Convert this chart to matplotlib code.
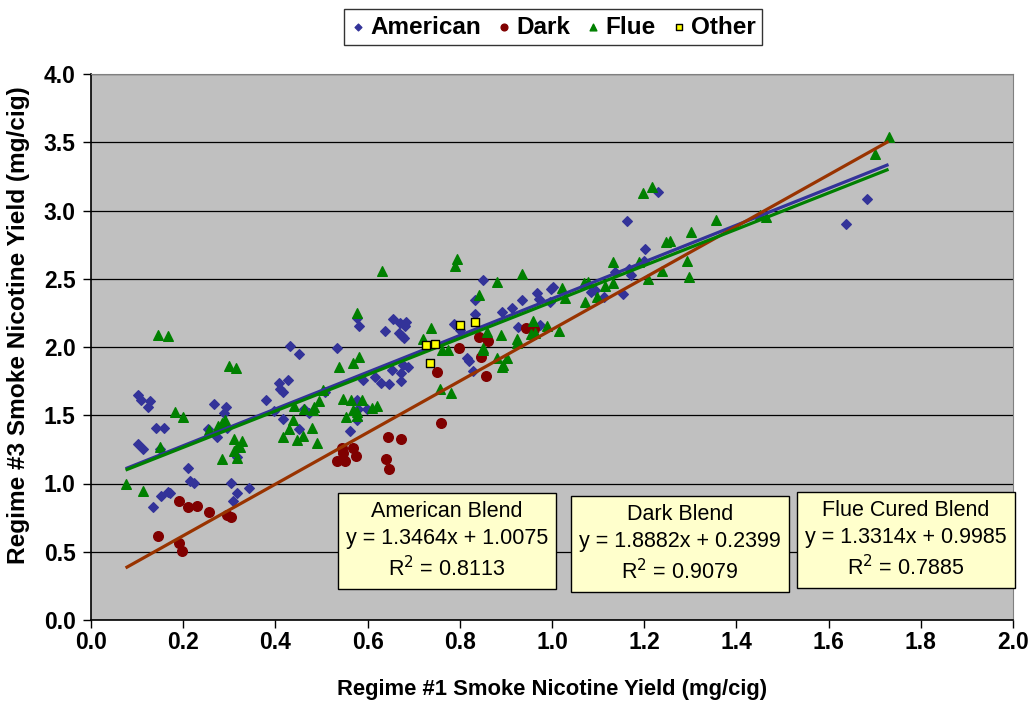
import numpy as np
import matplotlib
matplotlib.use("Agg")
import matplotlib.pyplot as plt
from matplotlib.ticker import FormatStrFormatter

plt.rcParams["font.family"] = ["Liberation Sans", "DejaVu Sans"]

# Regime #1 vs Regime #3 nicotine yields (mg/cig), by blend type
american_x = [0.101, 0.108, 0.128, 0.124, 0.142, 0.158, 0.103, 0.112, 0.150, 0.210,
              0.215, 0.223, 0.152, 0.168, 0.172, 0.134, 0.267, 0.293, 0.289, 0.253,
              0.273, 0.296, 0.303, 0.316, 0.309, 0.317, 0.343, 0.576, 0.582, 0.432,
              0.451, 0.534, 0.408, 0.428, 0.411, 0.416, 0.380, 0.398, 0.417, 0.452,
              0.462, 0.472, 0.507, 0.591, 0.616, 0.578, 0.579, 0.576, 0.562, 0.598,
              0.851, 0.834, 0.834, 0.891, 0.913, 0.927, 0.638, 0.656, 0.670, 0.683,
              0.681, 0.669, 0.674, 0.680, 0.788, 0.800, 0.815, 0.821, 0.828, 0.677,
              0.687, 0.654, 0.672, 0.629, 0.646, 0.672, 1.162, 1.202, 0.936, 0.968,
              0.972, 0.998, 1.003, 0.996, 0.975, 1.085, 1.093, 1.113, 1.137, 1.155,
              1.166, 1.171, 1.200, 1.231, 1.683, 1.638]
american_y = [1.648, 1.610, 1.607, 1.563, 1.404, 1.410, 1.290, 1.255, 1.250, 1.116,
              1.018, 1.006, 0.911, 0.940, 0.928, 0.826, 1.582, 1.558, 1.520, 1.400,
              1.338, 1.404, 1.001, 0.928, 0.872, 1.196, 0.965, 2.210, 2.154, 2.007,
              1.946, 1.990, 1.739, 1.758, 1.692, 1.673, 1.612, 1.531, 1.475, 1.397,
              1.544, 1.514, 1.672, 1.758, 1.783, 1.612, 1.544, 1.465, 1.385, 1.544,
              2.491, 2.344, 2.242, 2.254, 2.284, 2.149, 2.119, 2.205, 2.173, 2.185,
              2.154, 2.105, 2.081, 2.064, 2.168, 2.125, 1.917, 1.897, 1.826, 1.868,
              1.856, 1.832, 1.807, 1.739, 1.727, 1.751, 2.923, 2.716, 2.344, 2.398,
              2.350, 2.425, 2.437, 2.332, 2.161, 2.405, 2.418, 2.369, 2.547, 2.388,
              2.569, 2.527, 2.632, 3.133, 3.082, 2.899]

dark_x = [0.191, 0.211, 0.229, 0.255, 0.296, 0.303, 0.146, 0.191, 0.198, 0.544,
          0.569, 0.547, 0.575, 0.533, 0.550, 0.644, 0.672, 0.640, 0.647, 0.759,
          0.750, 0.798, 0.842, 0.862, 0.847, 0.856, 0.944, 0.961]
dark_y = [0.870, 0.830, 0.837, 0.789, 0.769, 0.752, 0.618, 0.562, 0.508, 1.262,
          1.262, 1.221, 1.201, 1.167, 1.165, 1.338, 1.326, 1.179, 1.108, 1.445,
          1.819, 1.995, 2.071, 2.046, 1.925, 1.787, 2.137, 2.132]

flue_x = [0.146, 0.166, 0.300, 0.315, 0.183, 0.199, 0.150, 0.075, 0.113, 0.275,
          0.285, 0.291, 0.256, 0.310, 0.310, 0.316, 0.285, 0.316, 0.327, 0.323,
          0.576, 0.539, 0.569, 0.582, 0.440, 0.495, 0.503, 0.481, 0.484, 0.462,
          0.439, 0.430, 0.417, 0.447, 0.459, 0.479, 0.490, 0.547, 0.564, 0.587,
          0.553, 0.568, 0.576, 0.577, 0.609, 0.620, 0.631, 0.795, 0.790, 0.880,
          0.842, 0.738, 0.721, 0.761, 0.775, 0.858, 0.850, 0.851, 0.889, 0.923,
          0.880, 0.894, 0.891, 0.903, 0.757, 0.781, 0.936, 1.132, 1.189, 1.021,
          1.028, 1.069, 1.079, 1.072, 1.097, 1.115, 1.132, 1.209, 0.959, 0.990,
          1.015, 0.954, 0.963, 0.925, 1.216, 1.197, 1.355, 1.451, 1.464, 1.302,
          1.247, 1.257, 1.292, 1.238, 1.298, 1.730, 1.701]
flue_y = [2.088, 2.080, 1.861, 1.844, 1.526, 1.490, 1.270, 1.000, 0.947, 1.421,
          1.441, 1.465, 1.390, 1.326, 1.240, 1.270, 1.177, 1.185, 1.313, 1.270,
          2.247, 1.856, 1.885, 1.925, 1.568, 1.604, 1.685, 1.538, 1.558, 1.544,
          1.465, 1.400, 1.338, 1.319, 1.350, 1.404, 1.294, 1.619, 1.612, 1.612,
          1.485, 1.538, 1.526, 1.494, 1.555, 1.568, 2.559, 2.645, 2.596, 2.479,
          2.381, 2.142, 2.056, 1.978, 1.978, 2.112, 1.990, 1.978, 2.088, 2.056,
          1.917, 1.868, 1.851, 1.917, 1.690, 1.665, 2.533, 2.625, 2.625, 2.435,
          2.357, 2.467, 2.479, 2.332, 2.364, 2.447, 2.471, 2.496, 2.193, 2.154,
          2.117, 2.095, 2.100, 2.032, 3.170, 3.126, 2.930, 2.967, 2.950, 2.845,
          2.772, 2.779, 2.632, 2.559, 2.515, 3.541, 3.414]

other_x = [0.800, 0.834, 0.727, 0.746, 0.735]
other_y = [2.163, 2.181, 2.017, 2.024, 1.885]

# linear fits (slope, intercept, R^2) per blend
fit_names = ["American Blend", "Dark Blend", "Flue Cured Blend"]
fit_slope = [1.3464, 1.8882, 1.3314]
fit_icept = [1.0075, 0.2399, 0.9985]
fit_r2 = ["0.8113", "0.9079", "0.7885"]

blue = "#333399"
dred = "#800000"
green = "#008000"
brown = "#993300"

fig = plt.figure(figsize=(10.3, 7.06), dpi=100)
ax = fig.add_axes([91 / 1030, 1 - 620 / 706, 922 / 1030, 546 / 706])
ax.set_facecolor("#C0C0C0")

h_am = ax.scatter(american_x, american_y, marker="D", s=24, color=blue, zorder=3, label="American")
h_dk = ax.scatter(dark_x, dark_y, marker="o", s=48, color=dred, zorder=3, label="Dark")
h_fl = ax.scatter(flue_x, flue_y, marker="^", s=48, color=green, zorder=3, label="Flue")

# trendlines over the full x range of the data
all_x = american_x + dark_x + flue_x + other_x
xs = np.array([min(all_x), max(all_x)])
for m, b, c in zip(fit_slope, fit_icept, [blue, brown, green]):
    ax.plot(xs, m * xs + b, color=c, lw=2.3, zorder=4, solid_capstyle="butt")

h_ot = ax.scatter(other_x, other_y, marker="s", s=34, color="#FFFF00", edgecolors="black",
                  linewidths=1.0, zorder=5, label="Other")

ax.set_xlim(0, 2.0)
ax.set_ylim(0, 4.0)
ax.set_xticks(np.arange(0, 2.01, 0.2))
ax.set_yticks(np.arange(0, 4.01, 0.5))
ax.xaxis.set_major_formatter(FormatStrFormatter("%.1f"))
ax.yaxis.set_major_formatter(FormatStrFormatter("%.1f"))
ax.yaxis.grid(True, color="black", lw=0.9)
ax.set_axisbelow(True)
ax.tick_params(axis="both", direction="out", length=6, width=1, labelsize=16.5)
ax.tick_params(axis="x", pad=2)
ax.tick_params(axis="y", pad=5)
for lab in ax.get_xticklabels() + ax.get_yticklabels():
    lab.set_fontweight("bold")

for side in ["top", "right"]:
    ax.spines[side].set_color("#808080")
for side in ["left", "bottom"]:
    ax.spines[side].set_color("black")
    ax.spines[side].set_linewidth(1.2)

ax.set_xlabel("Regime #1 Smoke Nicotine Yield (mg/cig)", fontsize=15.8, fontweight="bold", labelpad=18)
ax.set_ylabel("Regime #3 Smoke Nicotine Yield (mg/cig)", fontsize=17.6, fontweight="bold")
ax.yaxis.set_label_coords(-0.066, 0.54)

# equation boxes
box_x = [447, 680, 906]
box_y = [541, 544, 540]
for name, m, b, r2, bx, by in zip(fit_names, fit_slope, fit_icept, fit_r2, box_x, box_y):
    txt = f"{name}\ny = {m:.4f}x + {b:.4f}\nR$^2$ = {r2}"
    fig.text(bx / 1030, 1 - by / 706, txt, ha="center", va="center", fontsize=15.5,
             linespacing=1.35, zorder=10,
             bbox=dict(boxstyle="square,pad=0.38", fc="#FFFFCC", ec="black", lw=1.0))

leg = fig.legend(handles=[h_am, h_dk, h_fl, h_ot], loc="center", ncol=4,
                 bbox_to_anchor=(553 / 1030, 1 - 27 / 706), frameon=True, fancybox=False,
                 edgecolor="black", handlelength=0.6, handletextpad=0.2, columnspacing=0.65,
                 borderpad=0.25, borderaxespad=0, markerscale=0.7,
                 prop={"weight": "bold", "size": 17.5})
leg.get_frame().set_linewidth(1.0)

fig.savefig("out.png", dpi=100)
